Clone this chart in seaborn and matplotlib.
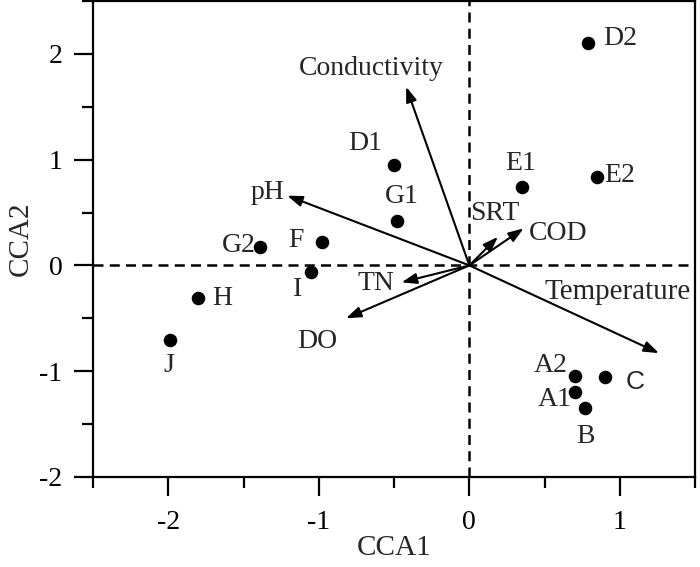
import matplotlib
matplotlib.use("Agg")
import matplotlib.pyplot as plt
import seaborn as sns
import pandas as pd
from matplotlib.ticker import MultipleLocator

sns.set_style("ticks")
plt.rcParams['font.family'] = ['Liberation Serif', 'DejaVu Serif']
plt.rcParams['axes.unicode_minus'] = False

# Sample scores
sites = ["D2", "E2", "E1", "D1", "G1", "G2", "F", "I", "H", "J", "A2", "C", "A1", "B"]
cca1 = [0.79, 0.85, 0.35, -0.50, -0.48, -1.39, -0.98, -1.05, -1.80, -1.99, 0.705, 0.90, 0.705, 0.77]
cca2 = [2.10, 0.84, 0.74, 0.95, 0.42, 0.17, 0.22, -0.06, -0.31, -0.71, -1.05, -1.06, -1.20, -1.35]
site_lx = [1.00, 1.00, 0.34, -0.69, -0.45, -1.53, -1.15, -1.14, -1.64, -2.00, 0.54, 1.10, 0.57, 0.77]
site_ly = [2.15, 0.85, 0.96, 1.15, 0.65, 0.19, 0.24, -0.23, -0.31, -0.95, -0.95, -1.10, -1.27, -1.62]

# Environmental vectors
env = ["Conductivity", "pH", "SRT", "COD", "TN", "DO", "Temperature"]
env_x = [-0.42, -1.21, 0.19, 0.36, -0.45, -0.82, 1.26]
env_y = [1.69, 0.66, 0.27, 0.35, -0.16, -0.50, -0.83]
env_lx = [-0.65, -1.34, 0.17, 0.59, -0.62, -1.01, 0.985]
env_ly = [1.86, 0.69, 0.49, 0.30, -0.17, -0.72, -0.25]

df = pd.DataFrame({"CCA1": cca1, "CCA2": cca2, "site": sites})

fig = plt.figure(figsize=(7.0, 5.67), dpi=100)
ax = fig.add_axes([0.133, 0.159, 0.860, 0.839])

ax.axhline(0, color="black", lw=1.8, ls=(0, (4, 2.5)), zorder=1)
ax.axvline(0, color="black", lw=1.8, ls=(0, (4, 2.5)), zorder=1)

sns.scatterplot(data=df, x="CCA1", y="CCA2", color="black", s=95,
                edgecolor="black", linewidth=0, ax=ax, zorder=3)

for name, lx, ly in zip(sites, site_lx, site_ly):
    if name == "C":
        ax.text(lx, ly, name, fontsize=19, ha="center", va="center",
                family=["Liberation Sans", "DejaVu Sans"])
    else:
        ax.text(lx, ly, name, fontsize=20, ha="center", va="center")

for name, x, y, lx, ly in zip(env, env_x, env_y, env_lx, env_ly):
    ax.annotate("", xy=(x, y), xytext=(0, 0),
                arrowprops=dict(arrowstyle="-|>,head_length=0.9,head_width=0.32",
                                color="black", lw=1.5, shrinkA=0, shrinkB=0),
                zorder=2)
    fs = 21 if name == "Temperature" else 20
    ax.text(lx, ly, name, fontsize=fs, ha="center", va="center")

ax.set_xlim(-2.5, 1.5)
ax.set_ylim(-2.0, 2.5)
ax.xaxis.set_major_locator(MultipleLocator(1))
ax.xaxis.set_minor_locator(MultipleLocator(0.5))
ax.yaxis.set_major_locator(MultipleLocator(1))
ax.yaxis.set_minor_locator(MultipleLocator(0.5))
ax.tick_params(which="major", length=14, width=1.6, labelsize=20, direction="out", colors="black")
ax.tick_params(which="minor", length=8, width=1.6, direction="out", colors="black")
ax.tick_params(axis="x", pad=10)
ax.tick_params(axis="y", pad=8)
ax.set_xlabel("CCA1", fontsize=21, labelpad=0)
ax.set_ylabel("CCA2", fontsize=21, labelpad=4)
for sp in ax.spines.values():
    sp.set_visible(True)
    sp.set_linewidth(1.6)
    sp.set_color("black")

fig.savefig("out.png", dpi=100)
